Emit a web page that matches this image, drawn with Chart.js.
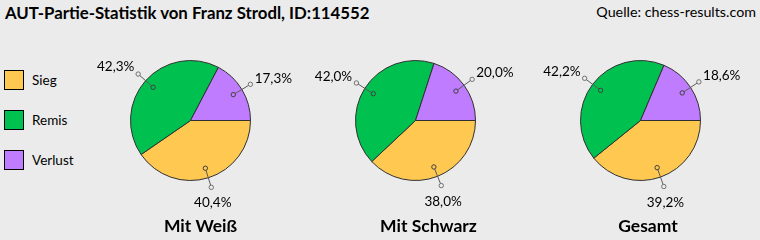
<!DOCTYPE html>
<html>
<head>
<meta charset="utf-8">
<script src="https://cdn.jsdelivr.net/npm/chart.js@4.4.1/dist/chart.umd.min.js"></script>
<style>
  html, body { margin: 0; padding: 0; }
  body { width: 760px; height: 240px; background: #ebebeb; position: relative; overflow: hidden; font-family: Lato, "Open Sans", sans-serif; color: #000; }
  .title { position: absolute; left: 5px; top: 2px; font-size: 16.8px; font-weight: bold; white-space: nowrap; }
  .source { position: absolute; right: 4px; top: 3px; font-size: 14.3px; white-space: nowrap; }
  .legend { position: absolute; left: 4px; top: 70px; }
  .legend .item { position: absolute; left: 0; height: 20px; white-space: nowrap; }
  .legend .sw { position: absolute; left: 0; top: 0; width: 18px; height: 18px; border: 1px solid #000; }
  .legend .lb { position: absolute; left: 28px; top: 1px; font-size: 13.5px; line-height: 18px; }
  canvas.pie { position: absolute; }
  .sub { position: absolute; top: 215px; font-size: 17.5px; font-weight: bold; white-space: nowrap; transform: translateX(-50%); }
</style>
</head>
<body>
<div class="title" id="title"></div>
<div class="source" id="source"></div>
<div class="legend" id="legend"></div>
<script>
const chartTitle = 'AUT-Partie-Statistik von Franz Strodl, ID:114552';
const sourceText = 'Quelle: chess-results.com';
const categories = ['Sieg', 'Remis', 'Verlust'];
const pieTitles = ['Mit Weiß', 'Mit Schwarz', 'Gesamt'];
const withWhite = [40.4, 42.3, 17.3];
const withBlack = [38.0, 42.0, 20.0];
const overall = [39.2, 42.2, 18.6];
const colors = ['#ffc850', '#00c050', '#c07cff'];

document.getElementById('title').textContent = chartTitle;
document.getElementById('source').textContent = sourceText;

const legend = document.getElementById('legend');
categories.forEach((c, i) => {
  const it = document.createElement('div');
  it.className = 'item';
  it.style.top = (i * 40) + 'px';
  const sw = document.createElement('div');
  sw.className = 'sw';
  sw.style.background = colors[i];
  const lb = document.createElement('div');
  lb.className = 'lb';
  lb.textContent = c;
  it.appendChild(sw); it.appendChild(lb);
  legend.appendChild(it);
});

const leaderPlugin = {
  id: 'leader',
  afterDatasetsDraw(chart) {
    const ctx = chart.ctx;
    const meta = chart.getDatasetMeta(0);
    const ds = chart.data.datasets[0];
    ctx.save();
    meta.data.forEach((arc, i) => {
      const p = arc.getProps(['x', 'y', 'startAngle', 'endAngle', 'outerRadius'], true);
      const mid = (p.startAngle + p.endAngle) / 2;
      const ux = Math.cos(mid), uy = Math.sin(mid);
      const r = p.outerRadius;
      const ix = p.x + ux * r * 5 / 6, iy = p.y + uy * r * 5 / 6;
      const ox = p.x + ux * r * 7 / 6, oy = p.y + uy * r * 7 / 6;
      ctx.strokeStyle = '#5a5a5a';
      ctx.lineWidth = 1;
      ctx.beginPath();
      ctx.moveTo(ix, iy); ctx.lineTo(ox, oy);
      ctx.stroke();
      [[ix, iy, '#404040', colors[i]], [ox, oy, '#707070', '#ebebeb']].forEach(([cx, cy, col, fill]) => {
        ctx.beginPath();
        ctx.arc(cx, cy, 2.2, 0, Math.PI * 2);
        ctx.fillStyle = fill;
        ctx.fill();
        ctx.strokeStyle = col;
        ctx.stroke();
      });
      const txt = ds.data[i].toFixed(1).replace('.', ',') + '%';
      ctx.font = '13.5px Lato, "Open Sans", sans-serif';
      ctx.fillStyle = '#000';
      const gap = 5;
      if (Math.abs(ux) > 0.5) {
        ctx.textAlign = ux > 0 ? 'left' : 'right';
        ctx.textBaseline = 'middle';
        ctx.fillText(txt, ox + ux * gap, oy + uy * gap + uy * 6.5);
      } else {
        ctx.textAlign = 'center';
        ctx.textBaseline = uy > 0 ? 'top' : 'bottom';
        ctx.fillText(txt, ox + ux * gap, oy + (uy > 0 ? 9 : -9));
      }
    });
    ctx.restore();
  }
};

const pieData = [withWhite, withBlack, overall];
const centersX = [190.5, 415.5, 640.5];
const subX = [200.5, 428.5, 648];

pieData.forEach((vals, k) => {
  const cv = document.createElement('canvas');
  cv.className = 'pie';
  cv.width = 221; cv.height = 221;
  cv.style.width = '221px'; cv.style.height = '221px';
  cv.style.left = (centersX[k] - 110.5) + 'px';
  cv.style.top = (120.5 - 110.5) + 'px';
  document.body.appendChild(cv);
  new Chart(cv, {
    type: 'pie',
    data: {
      labels: categories,
      datasets: [{
        data: vals,
        backgroundColor: colors,
        borderColor: '#303030',
        borderWidth: 1
      }]
    },
    options: {
      responsive: false,
      animation: false,
      events: [],
      rotation: 90,
      radius: 60,
      layout: { padding: 0 },
      plugins: { legend: { display: false }, tooltip: { enabled: false }, title: { display: false } }
    },
    plugins: [leaderPlugin]
  });
  const sub = document.createElement('div');
  sub.className = 'sub';
  sub.style.left = subX[k] + 'px';
  sub.textContent = pieTitles[k];
  document.body.appendChild(sub);
});
</script>
</body>
</html>
